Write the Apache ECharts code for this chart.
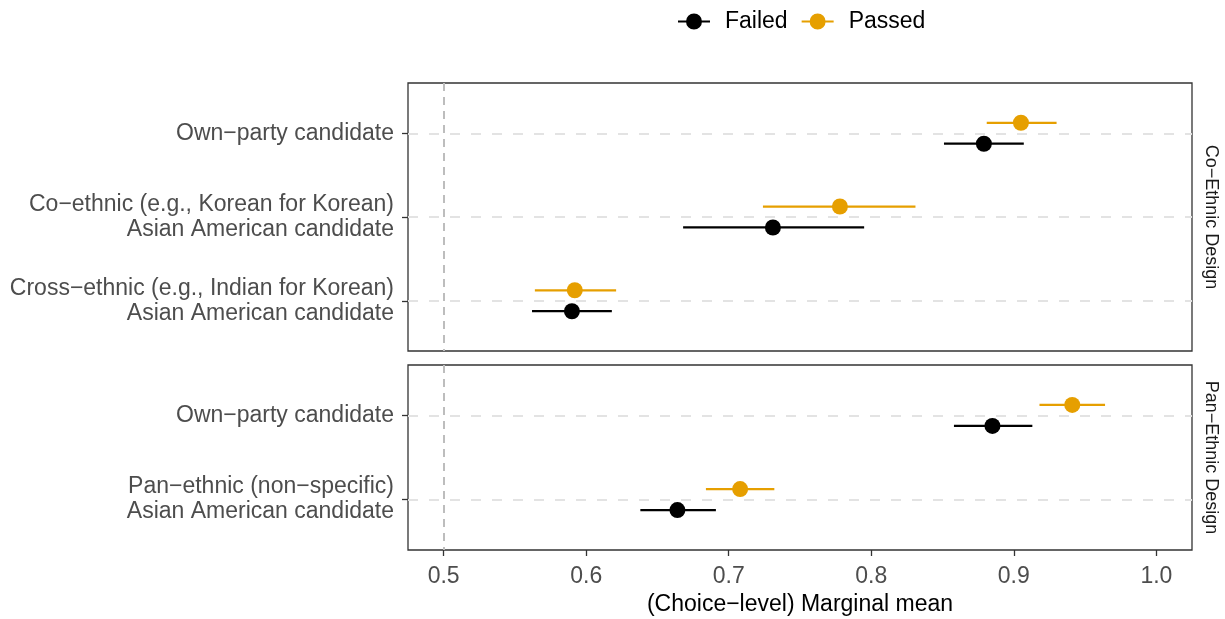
<!DOCTYPE html>
<html>
<head>
<meta charset="utf-8">
<script src="https://cdn.jsdelivr.net/npm/echarts@6/dist/echarts.min.js"></script>
<style>
  html, body { margin: 0; padding: 0; background: #ffffff; }
  #chart { width: 1225px; height: 619px; }
</style>
</head>
<body>
<div id="chart"></div>
<script>
// Facet titles
const designs = ['Co\u2212Ethnic Design', 'Pan\u2212Ethnic Design'];

// Candidate attributes per design (top to bottom)
const coLabels = [
  'Own\u2212party candidate',
  'Co\u2212ethnic (e.g., Korean for Korean)\nAsian American candidate',
  'Cross\u2212ethnic (e.g., Indian for Korean)\nAsian American candidate'
];
const panLabels = [
  'Own\u2212party candidate',
  'Pan\u2212ethnic (non\u2212specific)\nAsian American candidate'
];

// Group names
const groups = ['Failed', 'Passed'];

// Co-ethnic design: marginal means with 95% intervals
const coFailedEst  = [0.879, 0.731, 0.590];
const coFailedLow  = [0.851, 0.668, 0.562];
const coFailedHigh = [0.907, 0.795, 0.618];
const coPassedEst  = [0.905, 0.778, 0.592];
const coPassedLow  = [0.881, 0.724, 0.564];
const coPassedHigh = [0.930, 0.831, 0.621];

// Pan-ethnic design: marginal means with 95% intervals
const panFailedEst  = [0.885, 0.664];
const panFailedLow  = [0.858, 0.638];
const panFailedHigh = [0.913, 0.691];
const panPassedEst  = [0.941, 0.708];
const panPassedLow  = [0.918, 0.684];
const panPassedHigh = [0.964, 0.732];

// x-axis ticks
const xTicks = [0.5, 0.6, 0.7, 0.8, 0.9, 1.0];

const COLORS = { Failed: '#000000', Passed: '#E69F00' };
const DODGE = { Failed: 0.125, Passed: -0.125 };
const FONT = "'Liberation Sans', Arial, Helvetica, sans-serif";

// Panel geometry
const PANEL_LEFT = 408, PANEL_WIDTH = 784;
const panels = [
  { top: 83, height: 268 },
  { top: 365, height: 185 }
];

const panelData = [
  {
    labels: coLabels,
    Failed: { est: coFailedEst, low: coFailedLow, high: coFailedHigh },
    Passed: { est: coPassedEst, low: coPassedLow, high: coPassedHigh }
  },
  {
    labels: panLabels,
    Failed: { est: panFailedEst, low: panFailedLow, high: panFailedHigh },
    Passed: { est: panPassedEst, low: panPassedLow, high: panPassedHigh }
  }
];

const grid = [], xAxis = [], yAxis = [], series = [], graphic = [];

panelData.forEach(function (pd, i) {
  const n = pd.labels.length;
  const rows = pd.labels.map(function (_, k) { return k + 1; });

  grid.push({
    left: PANEL_LEFT, width: PANEL_WIDTH,
    top: panels[i].top, height: panels[i].height,
    show: true, borderColor: '#333333', borderWidth: 1.3,
    backgroundColor: '#ffffff'
  });

  const isBottom = i === panelData.length - 1;
  xAxis.push({
    type: 'value', gridIndex: i, min: 0.475, max: 1.025,
    axisLine: { show: false },
    splitLine: { show: false },
    axisTick: {
      show: isBottom, customValues: xTicks, length: 6,
      lineStyle: { color: '#333333', width: 1.3 }
    },
    axisLabel: {
      show: isBottom, customValues: xTicks, margin: 15,
      color: '#4d4d4d', fontSize: 23, fontFamily: FONT,
      formatter: function (v) { return v.toFixed(1); }
    },
    name: isBottom ? '(Choice\u2212level) Marginal mean' : '',
    nameLocation: 'middle', nameGap: 43,
    nameTextStyle: { color: '#000000', fontSize: 23, fontFamily: FONT }
  });

  yAxis.push({
    type: 'value', gridIndex: i, inverse: true,
    min: 0.4, max: n + 0.6,
    axisLine: { show: false },
    splitLine: { show: false },
    axisTick: {
      show: true, customValues: rows, length: 6,
      lineStyle: { color: '#333333', width: 1.3 }
    },
    axisLabel: {
      customValues: rows, margin: 14,
      color: '#4d4d4d', fontSize: 23, lineHeight: 25, fontFamily: FONT,
      formatter: function (v) { return pd.labels[Math.round(v) - 1] || ''; }
    }
  });

  // Reference lines: dashed row guides and the 0.5 line
  series.push({
    type: 'line', xAxisIndex: i, yAxisIndex: i, data: [], silent: true, z: 1,
    markLine: {
      silent: true, symbol: 'none', label: { show: false },
      animation: false,
      data: rows.map(function (r) {
        return { yAxis: r, lineStyle: { color: '#e3e3e3', width: 2, type: [10, 11] } };
      }).concat([
        { xAxis: 0.5, lineStyle: { color: '#bdbdbd', width: 2, type: [8, 6] } }
      ])
    }
  });

  groups.forEach(function (g) {
    const d = pd[g];
    const barData = d.est.map(function (_, k) { return [d.low[k], d.high[k], k + 1 + DODGE[g]]; });
    const ptData = d.est.map(function (v, k) { return [v, k + 1 + DODGE[g]]; });

    series.push({
      name: g, type: 'custom', xAxisIndex: i, yAxisIndex: i, z: 3,
      itemStyle: { color: COLORS[g] },
      encode: { x: [0, 1], y: 2 },
      renderItem: function (params, api) {
        const y = api.value(2);
        const a = api.coord([api.value(0), y]);
        const b = api.coord([api.value(1), y]);
        return {
          type: 'line',
          shape: { x1: a[0], y1: a[1], x2: b[0], y2: b[1] },
          style: { stroke: COLORS[g], lineWidth: 2.2 }
        };
      },
      data: barData
    });

    series.push({
      name: g, type: 'scatter', xAxisIndex: i, yAxisIndex: i, z: 4,
      symbol: 'circle', symbolSize: 16,
      itemStyle: { color: COLORS[g], opacity: 1 },
      data: ptData
    });
  });

  // Facet strip title on the right
  graphic.push({
    type: 'text',
    x: PANEL_LEFT + PANEL_WIDTH + 19,
    y: panels[i].top + panels[i].height / 2,
    rotation: -Math.PI / 2,
    style: {
      text: designs[i], fill: '#1a1a1a', fontSize: 18, fontFamily: FONT,
      align: 'center', verticalAlign: 'middle'
    }
  });
});

// Legend key: a short line through a dot
const KEY = 'path://M0,7L32,7L32,9L0,9Z M16,0A8,8 0 1 1 15.99,0Z';

const chart = echarts.init(document.getElementById('chart'), null, { renderer: 'canvas' });
chart.setOption({
  animation: false,
  backgroundColor: '#ffffff',
  textStyle: { fontFamily: FONT },
  legend: {
    data: groups.map(function (g) { return { name: g, icon: KEY }; }),
    left: 673, top: 5,
    itemWidth: 32, itemHeight: 16, itemGap: 14,
    selectedMode: false,
    textStyle: { color: '#000000', fontSize: 23, fontFamily: FONT, padding: [0, 0, 0, 10] }
  },
  grid: grid,
  xAxis: xAxis,
  yAxis: yAxis,
  series: series,
  graphic: graphic
});
</script>
</body>
</html>
